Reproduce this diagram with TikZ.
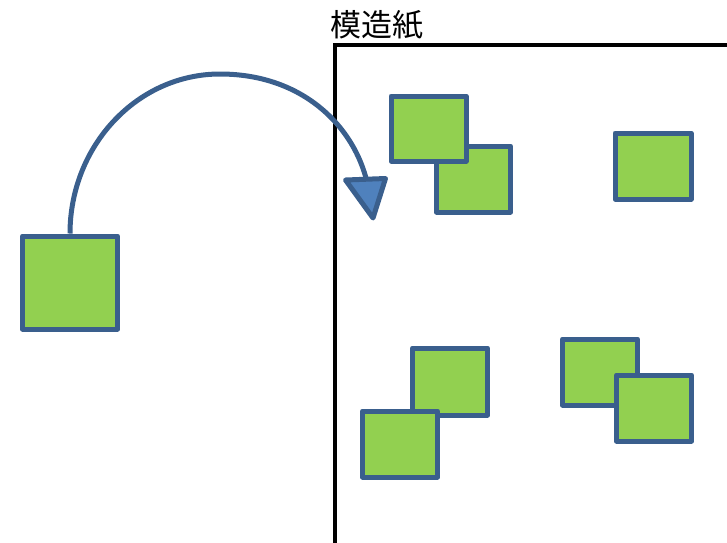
\documentclass[tikz,border=0pt]{standalone}
\usepackage{fontspec}
\newfontfamily\cjk{Noto Sans CJK JP}
\definecolor{sqfill}{HTML}{92D050}
\definecolor{sqline}{HTML}{3A5F8D}
\definecolor{arfill}{HTML}{4F81BD}
\tikzset{
  sq/.style={draw=sqline, fill=sqfill, line width=5pt, line join=round, inner sep=0pt, minimum width=75pt, minimum height=66pt},
  paper/.style={draw=black, line width=4pt},
  conn/.style={draw=sqline, line width=5pt},
  head/.style={draw=sqline, fill=arfill, line width=5pt, line join=round}
}
\begin{document}
\begin{tikzpicture}[x=1pt,y=-1pt]
\useasboundingbox (0,0) rectangle (727,542);
% paper
\draw[paper] (335,560) -- (335,45) -- (740,45);
\node[anchor=west, inner sep=0pt, font=\cjk\fontsize{31}{34}\selectfont] (title) at (330,25) {模造紙};
% source square
\node[sq, minimum width=95pt, minimum height=93pt] (src) at (70,282.5) {};
% squares on the paper
\node[sq, minimum width=74pt] (b) at (473.5,179) {};
\node[sq, minimum height=65pt] (a) at (428.5,128.5) {};
\node[sq, minimum width=76pt] (g) at (653,166) {};
\node[sq, minimum height=67pt] (c) at (450,381.5) {};
\node[sq] (d) at (400,444) {};
\node[sq] (e) at (600,372) {};
\node[sq] (f) at (654,408) {};
% curved arrow
\coordinate (top) at (220,74);
\coordinate (endp) at (366,178);
\draw[conn] (src.north) .. controls (70,146) and (137,74) .. (top)
  .. controls (300,74) and (351,123) .. (endp);
\coordinate (h1) at (345.5,180);
\coordinate (h2) at (385.5,178.5);
\coordinate (h3) at (373,218);
\filldraw[head] (h1) -- (h2) -- (h3) -- cycle;
\end{tikzpicture}
\end{document}
